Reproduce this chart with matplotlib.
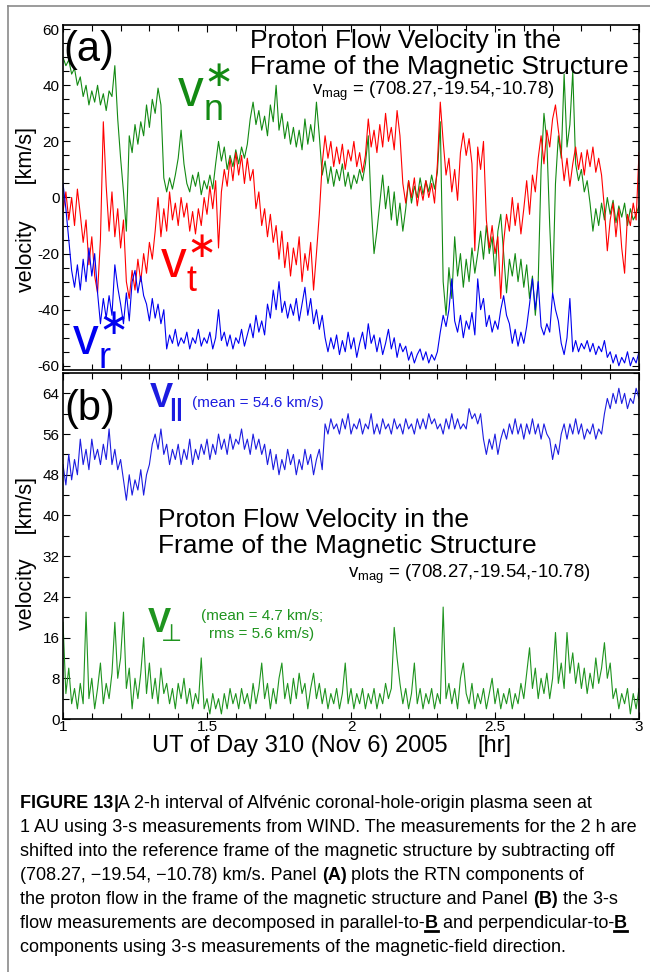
import numpy as np
import matplotlib
matplotlib.use("Agg")
import matplotlib.pyplot as plt
from matplotlib.ticker import MultipleLocator, FuncFormatter
from matplotlib.lines import Line2D

plt.rcParams['font.family'] = ['Liberation Sans', 'DejaVu Sans']
plt.rcParams['axes.unicode_minus'] = False
plt.rcParams['mathtext.fontset'] = 'custom'
plt.rcParams['mathtext.rm'] = 'Liberation Sans'
plt.rcParams['mathtext.it'] = 'Liberation Sans:italic'
plt.rcParams['mathtext.bf'] = 'Liberation Sans:bold'
plt.rcParams['mathtext.sf'] = 'DejaVu Sans'

# time axis: UT hours on day 310, one sample every 0.01 hr
ut_hr = np.round(np.arange(1.0, 3.0001, 0.01), 2)

# panel (a): RTN flow components in the frame of the magnetic structure [km/s]
v_n = [50, 47, 49, 44, 46, 40, 43, 36, 40, 33,
       38, 34, 40, 33, 37, 31, 38, 36, 47, 28,
       14, 2, -12, 22, 16, 26, 19, 27, 22, 33,
       25, 35, 30, 39, 33, 7, 2, 7, 3, 8,
       14, 24, 12, 5, 2, 8, 4, 9, 1, 6,
       3, 8, 3, 12, 20, 13, 18, 10, 15, 11,
       17, 12, 18, 14, 19, 28, 34, 26, 31, 24,
       29, 22, 33, 27, 40, 24, 30, 21, 27, 19,
       25, 18, 24, 17, 28, 19, 26, 20, 34, 22,
       8, 13, 5, 11, 4, 10, 6, 12, 4, 9,
       3, 8, 5, 10, 6, 12, 22, -3, -20, -12,
       -2, 8, -4, 4, -8, 2, -10, -2, -12, -4,
       6, -2, 4, 0, 7, 1, 6, 2, 8, 3,
       9, 27, -30, -42, -25, -36, -14, -28, -20, -32,
       -22, -30, -18, -27, -20, -12, -22, -10, -20, -14,
       -28, -12, -6, -20, -34, -22, -28, -20, -30, -22,
       -32, -24, -36, -28, -42, -30, 10, 30, 20, -10,
       -34, 5, 22, 14, 44, 18, 26, 45, 12, 6,
       10, 2, 6, -2, -12, -4, -10, -2, -8, 0,
       -6, -1, -9, -3, -7, -2, -10, -4, -8, -6,
       -3]

v_t = [-5, 2, -8, 0, -10, 3, -6, -16, -8, -24,
       -14, -28, -34, -15, 27, 4, -12, 2, -14, -4,
       -18, -8, -30, -36, -26, -33, -22, -30, -20, -27,
       -16, -22, -12, 0, -14, -4, -12, 2, -8, -2,
       -10, 0, -7, -2, -12, -5, -13, -4, -10, 0,
       -6, 4, -4, 6, -18, 2, 10, 4, 14, 6,
       16, 8, 15, 5, 14, 6, 10, -4, 2, -10,
       -4, -14, -6, -16, -10, -22, -12, -25, -16, -28,
       -18, -24, -14, -30, -20, -26, -16, -33, -20, -6,
       12, 22, 14, 20, 11, 18, 12, 19, 10, 17,
       13, 20, 11, 16, 9, 15, 28, 18, 24, 16,
       26, 18, 30, 20, 25, 17, 31, 22, 5, -2,
       6, 0, 7, -3, 4, -1, 6, 0, 5, -2,
       12, 34, 20, 8, 14, 2, 10, -1, 16, 23,
       15, 21, 12, -19, 18, 10, 20, -8, -18, -10,
       -20, -14, -36, -16, -6, -12, 0, -10, -2, -13,
       -4, 6, -6, 8, 2, 14, 22, 12, 24, 18,
       28, 33, 24, 16, 6, 14, 4, 12, 18, 10,
       16, 8, 17, 11, 18, 9, 14, 8, -4, -19,
       -8, -2, -14, -4, -18, -27, -6, -10, -2, -8,
       16]

v_r = [5, -4, -15, -26, -32, -24, -33, -22, -30, -18,
       -28, -20, -34, -45, -36, -43, -35, -42, -24, -32,
       -38, -45, -34, -44, -30, -26, -34, -28, -35, -38,
       -44, -36, -43, -38, -45, -40, -54, -49, -52, -47,
       -53, -50, -52, -48, -54, -50, -52, -47, -53, -50,
       -52, -48, -54, -50, -40, -51, -48, -53, -49, -54,
       -50, -52, -47, -53, -49, -45, -50, -42, -48, -44,
       -49, -38, -43, -33, -40, -30, -41, -37, -43, -38,
       -42, -36, -44, -38, -32, -42, -36, -45, -40, -47,
       -42, -50, -55, -50, -54, -49, -56, -51, -55, -48,
       -54, -50, -57, -52, -48, -54, -45, -52, -49, -55,
       -50, -56, -52, -47, -54, -50, -57, -52, -55, -53,
       -58, -55, -59, -56, -54, -58, -55, -59, -56, -58,
       -55, -48, -42, -46, -40, -29, -44, -48, -42, -50,
       -44, -47, -41, -49, -29, -40, -36, -46, -42, -48,
       -44, -47, -40, -35, -42, -45, -52, -47, -53, -48,
       -52, -46, -38, -29, -40, -30, -46, -49, -45, -48,
       -34, -40, -44, -52, -56, -50, -36, -55, -51, -55,
       -52, -54, -51, -55, -52, -56, -53, -55, -51, -57,
       -55, -59, -56, -60, -57, -59, -55, -60, -57, -59,
       -55]

# panel (b): flow parallel and perpendicular to B [km/s]
v_par = [50, 46, 52, 47, 51, 48, 55, 50, 53, 49,
         55, 51, 53, 50, 54, 51, 57, 50, 53, 49,
         51, 47, 43, 48, 44, 47, 45, 49, 44, 48,
         50, 54, 56, 53, 57, 52, 54, 50, 53, 51,
         54, 50, 53, 51, 55, 50, 53, 51, 54, 52,
         55, 51, 54, 52, 56, 53, 55, 52, 56, 53,
         55, 54, 57, 53, 55, 52, 56, 53, 55, 52,
         54, 50, 53, 49, 52, 48, 51, 49, 53, 50,
         52, 48, 51, 49, 53, 50, 52, 48, 51, 53,
         49, 58, 56, 59, 57, 58, 56, 59, 57, 60,
         56, 58, 57, 59, 56, 58, 57, 60, 56, 58,
         56, 59, 57, 58, 56, 59, 57, 58, 56, 59,
         57, 58, 56, 59, 57, 59, 57, 60, 58, 59,
         57, 58, 56, 59, 57, 60, 57, 59, 57, 58,
         57, 61, 59, 60, 58, 60, 55, 52, 55, 53,
         56, 52, 55, 57, 55, 58, 56, 59, 56, 58,
         55, 58, 56, 59, 56, 58, 55, 58, 56, 55,
         51, 54, 52, 56, 58, 55, 58, 56, 59, 56,
         58, 55, 57, 56, 58, 55, 57, 56, 60, 63,
         61, 64, 62, 65, 62, 64, 61, 63, 62, 65,
         63]

v_perp = [19, 5, 10, 3, 6, 2, 7, 3, 21, 4,
          8, 2, 6, 11, 3, 7, 4, 9, 19, 8,
          12, 21, 6, 10, 2, 8, 4, 9, 16, 5,
          11, 4, 8, 3, 10, 5, 7, 3, 6, 2,
          7, 4, 8, 3, 6, 2, 5, 3, 12, 2,
          4, 1, 5, 2, 4, 1, 5, 2, 6, 3,
          5, 2, 6, 3, 5, 2, 7, 3, 6, 11,
          4, 7, 2, 6, 3, 8, 11, 4, 7, 3,
          8, 4, 9, 5, 7, 2, 6, 9, 4, 7,
          3, 6, 2, 5, 3, 6, 2, 5, 11, 3,
          6, 2, 5, 3, 6, 2, 5, 3, 6, 2,
          5, 3, 7, 4, 6, 18, 12, 7, 3, 6,
          2, 5, 11, 3, 6, 2, 5, 3, 6, 2,
          5, 3, 22, 4, 7, 3, 6, 2, 8, 11,
          5, 3, 7, 2, 5, 3, 6, 2, 5, 8,
          3, 6, 2, 5, 3, 6, 2, 5, 3, 7,
          4, 9, 14, 6, 10, 4, 8, 5, 9, 4,
          8, 17, 7, 11, 6, 17, 9, 13, 7, 11,
          6, 10, 5, 9, 6, 12, 7, 10, 15, 8,
          11, 4, 6, 2, 5, 3, 6, 1, 5, 2,
          6]

GREEN = '#138a13'
RED = '#ff0000'
BLUE = '#0000f0'
BLUE_B = '#1c1ce0'
GREEN_B = '#1f941f'

W, H = 650, 972
fig = plt.figure(figsize=(W / 100, H / 100), dpi=100)


def put(x, y, s, size, color='black', weight='normal', ha='left', va='baseline', **kw):
    # place text using pixel coordinates measured from the top-left corner
    return fig.text(x / W, 1 - y / H, s, fontsize=size, color=color,
                    fontweight=weight, ha=ha, va=va, **kw)


def style_axes(ax, ymaj, ymin, ylim):
    ax.set_xlim(1, 3)
    ax.set_ylim(*ylim)
    ax.xaxis.set_major_locator(MultipleLocator(0.5))
    ax.xaxis.set_minor_locator(MultipleLocator(0.1))
    ax.xaxis.set_major_formatter(FuncFormatter(lambda v, p: f'{v:g}'))
    ax.yaxis.set_major_locator(MultipleLocator(ymaj))
    ax.yaxis.set_minor_locator(MultipleLocator(ymin))
    ax.tick_params(which='both', direction='in', top=True, right=True, width=0.8)
    ax.tick_params(which='major', length=5)
    ax.tick_params(which='minor', length=4)
    ax.tick_params(axis='y', labelsize=11, pad=2.5)
    ax.tick_params(axis='x', labelsize=11, pad=1)
    for s in ax.spines.values():
        s.set_linewidth(1.2)


ax_a = fig.add_axes([63 / W, 1 - 370 / H, 576 / W, 345 / H])
ax_b = fig.add_axes([63 / W, 1 - 719 / H, 576 / W, 346 / H])

# panel (a)
ax_a.plot(ut_hr, v_n, color=GREEN, lw=0.8)
ax_a.plot(ut_hr, v_t, color=RED, lw=0.8)
ax_a.plot(ut_hr, v_r, color=BLUE, lw=0.8)
style_axes(ax_a, 20, 5, (-61.5, 61.5))
ax_a.tick_params(labelbottom=False)

# panel (b)
ax_b.plot(ut_hr, v_par, color=BLUE_B, lw=0.8)
ax_b.plot(ut_hr, v_perp, color=GREEN_B, lw=0.8)
style_axes(ax_b, 8, 4, (0, 68))
# keep the "1" clear of the "0" on the y axis
ax_b.get_xticklabels()[0].set_ha('left')

# panel letters
put(63, 61, '(a)', 30)
put(64, 420, '(b)', 30)

# y labels
put(27, 210, 'velocity      [km/s]', 15.5, ha='center', va='center', rotation=90)
put(27, 553, 'velocity    [km/s]', 15.5, ha='center', va='center', rotation=90)

# titles
for x0, y0 in [(250, 48), (158, 527)]:
    put(x0, y0, 'Proton Flow Velocity in the', 19)
    put(x0, y0 + 26, 'Frame of the Magnetic Structure', 19)

for x0, y0 in [(312, 95), (348, 578)]:
    put(x0, y0, r'$\mathrm{v}_{\mathrm{mag}}$ = (708.27,-19.54,-10.78)', 13.4)

# component labels in panel (a)
star = '^{\\mathsf{\u2217}}'
put(177, 107, r'$\mathrm{v}_{\mathrm{n}}' + star + '$', 37, color=GREEN)
put(160, 277, r'$\mathrm{v}_{\mathrm{t}}' + star + '$', 37, color=RED)
put(72, 355, r'$\mathrm{v}_{\mathrm{r}}' + star + '$', 37, color=BLUE)

# component labels in panel (b)
put(149, 407, r'$\mathbf{V}^{\ }_{\!\mathbf{||}}$', 25, color=BLUE_B)
put(192, 407, '(mean = 54.6 km/s)', 11, color=BLUE_B)

put(147, 632, '$\\mathbf{V}^{\\ }_{\\!\\!\\!\\mathsf{\u22a5}}$', 25, color=GREEN_B)
put(262, 620, '(mean = 4.7 km/s;', 11, color=GREEN_B, ha='center')
put(262, 638, 'rms = 5.6 km/s)', 11, color=GREEN_B, ha='center')

# x label
put(152, 752, 'UT of Day 310 (Nov 6) 2005', 17)
put(477, 752, '[hr]', 17)

# border lines of the figure panel
fig.add_artist(Line2D([8 / W, 8 / W], [0, 1 - 6 / H], color='#8a8a8a', lw=1.2))
fig.add_artist(Line2D([8 / W, 1], [1 - 6 / H, 1 - 6 / H], color='#8a8a8a', lw=1.2))

# caption with bold and underlined runs
CAPTION_SIZE = 13
caption = [
    [('FIGURE 13', 'b'), ('|', 'b'),
     ('A 2-h interval of Alfvénic coronal-hole-origin plasma seen at', 'n')],
    [('1 AU using 3-s measurements from WIND. The measurements for the 2 h are', 'n')],
    [('shifted into the reference frame of the magnetic structure by subtracting off', 'n')],
    [('(708.27, \u221219.54, \u221210.78) km/s. Panel ', 'n'), ('(A)', 'b'),
     (' plots the RTN components of', 'n')],
    [('the proton flow in the frame of the magnetic structure and Panel ', 'n'),
     ('(B)', 'b'), (' the 3-s', 'n')],
    [('flow measurements are decomposed in parallel-to-', 'n'), ('B', 'u'),
     (' and perpendicular-to-', 'n'), ('B', 'u')],
    [('components using 3-s measurements of the magnetic-field direction.', 'n')],
]

renderer = fig.canvas.get_renderer()
space = 0.278 * CAPTION_SIZE * fig.dpi / 72
for i, runs in enumerate(caption):
    y = 808 + 24 * i
    cur = 20
    for text, style in runs:
        body = text.strip(' ')
        cur += (len(text) - len(text.lstrip(' '))) * space
        t = put(cur, y, body, CAPTION_SIZE, weight='normal' if style == 'n' else 'bold')
        w = t.get_window_extent(renderer).width
        if style == 'u':
            fig.add_artist(Line2D([cur / W, (cur + w) / W], [1 - (y + 3) / H] * 2,
                                  color='black', lw=2))
        cur += w + (len(text) - len(text.rstrip(' '))) * space

fig.savefig('out.png', dpi=100)
